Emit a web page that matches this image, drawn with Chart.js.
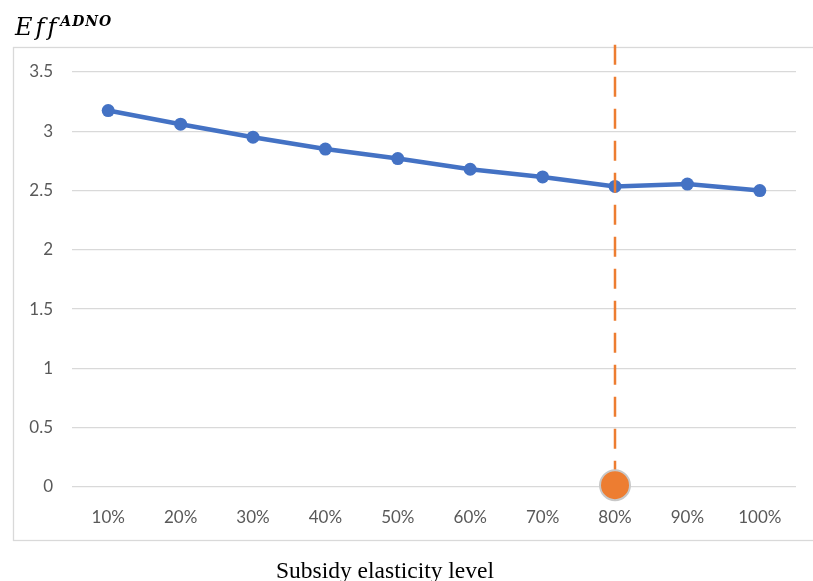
<!DOCTYPE html>
<html>
<head>
<meta charset="utf-8">
<script src="https://cdn.jsdelivr.net/npm/chart.js@4.4.1/dist/chart.umd.min.js"></script>
<style>
  html, body { margin: 0; padding: 0; background: #ffffff; }
  #wrap { width: 813px; height: 581px; position: relative; }
</style>
</head>
<body>
<div id="wrap"><canvas id="chart" width="813" height="581"></canvas></div>
<script>
// Subsidy elasticity levels and the resulting efficiency score
const elasticityLevels = ['10%', '20%', '30%', '40%', '50%', '60%', '70%', '80%', '90%', '100%'];
const effValues = [3.175, 3.06, 2.95, 2.85, 2.77, 2.68, 2.615, 2.535, 2.555, 2.50];

// Highlighted level: vertical reference line and marker on the axis
const highlightLevel = '80%';
const markerValue = 0.015;
const refLineTop = 3.73;

// Value axis ticks
const yTicks = [0, 0.5, 1, 1.5, 2, 2.5, 3, 3.5];

const yAxisTitle = { base: 'Eff', sup: 'ADNO' };
const xAxisTitle = 'Subsidy elasticity level';

const frameAndTitles = {
  id: 'frameAndTitles',
  beforeDraw(chart) {
    const ctx = chart.ctx;
    ctx.save();
    ctx.fillStyle = '#ffffff';
    ctx.fillRect(0, 0, chart.width, chart.height);
    ctx.strokeStyle = '#D9D9D9';
    ctx.lineWidth = 1.3;
    ctx.strokeRect(13.5, 47.5, 900, 493);
    ctx.restore();
  },
  afterDraw(chart) {
    const ctx = chart.ctx;
    ctx.save();
    ctx.fillStyle = '#000000';
    ctx.textBaseline = 'alphabetic';
    ctx.textAlign = 'left';
    // axis quantity label, math style
    ctx.font = 'italic 24px "DejaVu Serif"';
    ctx.letterSpacing = '3px';
    ctx.fillText(yAxisTitle.base, 15, 35);
    const w = ctx.measureText(yAxisTitle.base).width;
    ctx.font = 'italic bold 14px "DejaVu Serif"';
    ctx.letterSpacing = '1px';
    ctx.fillText(yAxisTitle.sup, 15 + w + 1, 26);
    ctx.letterSpacing = '0px';
    // horizontal axis title
    ctx.font = '23.5px "Liberation Serif"';
    ctx.textAlign = 'center';
    ctx.fillText(xAxisTitle, 385, 578);
    ctx.restore();
  }
};

new Chart(document.getElementById('chart'), {
  type: 'line',
  data: {
    labels: elasticityLevels,
    datasets: [
      {
        label: 'marker',
        data: [{ x: highlightLevel, y: markerValue }],
        showLine: false,
        pointRadius: 15,
        pointBackgroundColor: '#ED7D31',
        pointBorderColor: '#C8C8C8',
        pointBorderWidth: 2,
        clip: false
      },
      {
        label: 'reference',
        data: [{ x: highlightLevel, y: refLineTop }, { x: highlightLevel, y: 0 }],
        borderColor: '#ED7D31',
        borderWidth: 2.5,
        borderDash: [20, 12],
        pointRadius: 0,
        clip: false
      },
      {
        label: 'Eff',
        data: effValues,
        borderColor: '#4472C4',
        borderWidth: 4.5,
        pointRadius: 6.5,
        pointBackgroundColor: '#4472C4',
        pointBorderWidth: 0,
        tension: 0,
        clip: false
      }
    ]
  },
  options: {
    responsive: false,
    animation: false,
    events: [],
    layout: { padding: { top: 72, right: 14, left: 0, bottom: 0 } },
    plugins: { legend: { display: false }, tooltip: { enabled: false }, title: { display: false } },
    scales: {
      x: {
        type: 'category',
        offset: true,
        grid: { display: false, drawTicks: false },
        border: { display: false },
        ticks: { color: '#595959', font: { family: 'Lato', size: 17 }, padding: 20, maxRotation: 0 },
        afterFit(s) { s.height = 94; }
      },
      y: {
        min: 0,
        max: 3.5,
        afterBuildTicks(s) { s.ticks = yTicks.map(v => ({ value: v })); },
        grid: { color: '#D9D9D9', lineWidth: 1.3, drawTicks: false },
        border: { display: false },
        ticks: {
          color: '#595959',
          font: { family: 'Lato', size: 17 },
          padding: 19,
          callback: v => String(v)
        },
        afterFit(s) { s.width = 72; }
      }
    }
  },
  plugins: [frameAndTitles]
});
</script>
</body>
</html>
